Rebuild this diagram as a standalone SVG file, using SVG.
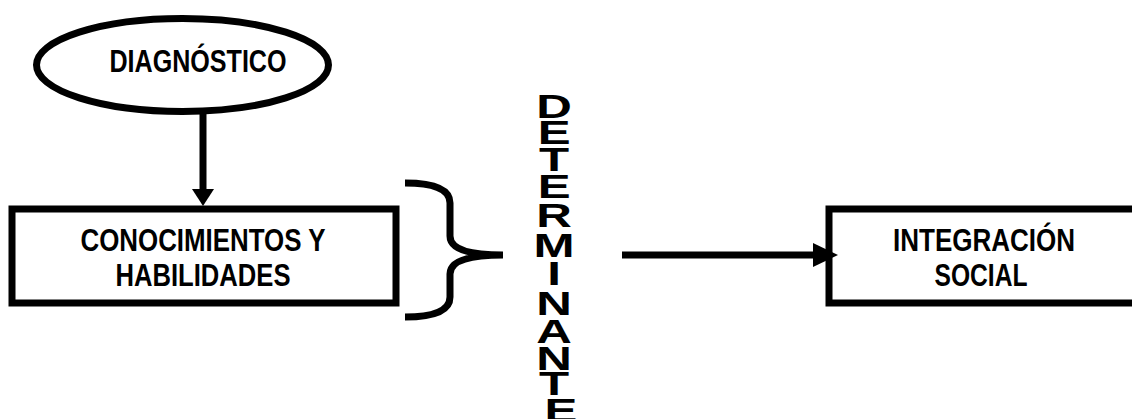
<svg xmlns="http://www.w3.org/2000/svg" width="1132" height="419" viewBox="0 0 1132 419">
<style>
.shape{fill:#fff;stroke:#000;stroke-width:7}
.lbl{font-family:"Liberation Sans",Arial,sans-serif;font-weight:bold;font-size:31px;fill:#000;text-anchor:middle}
.vert{font-family:"Liberation Sans",Arial,sans-serif;font-weight:bold;font-size:34px;fill:#000;text-anchor:middle}
.conn{stroke:#000;stroke-width:7;fill:none}
</style>
<rect width="1132" height="419" fill="#fff"/>
<g id="diagnostico">
<ellipse class="shape" cx="182.5" cy="65" rx="146" ry="46.5"/>
<text class="lbl" x="198" y="72" textLength="177" lengthAdjust="spacingAndGlyphs">DIAGNÓSTICO</text>
</g>
<g id="conocimientos">
<rect class="shape" x="12" y="209" width="384" height="94" stroke-width="8"/>
<text class="lbl" x="203" y="251" textLength="245" lengthAdjust="spacingAndGlyphs">CONOCIMIENTOS Y</text>
<text class="lbl" x="203" y="286" textLength="175" lengthAdjust="spacingAndGlyphs">HABILIDADES</text>
</g>
<g id="integracion">
<rect class="shape" x="829" y="209" width="320" height="94" stroke-width="8"/>
<text class="lbl" x="984" y="251" textLength="182" lengthAdjust="spacingAndGlyphs">INTEGRACIÓN</text>
<text class="lbl" x="981" y="286" textLength="93" lengthAdjust="spacingAndGlyphs">SOCIAL</text>
</g>
<g id="determinante" transform="translate(561,0) scale(1.45,1)">
<text class="vert">
<tspan x="0" y="118">D</tspan>
<tspan x="0" y="144">E</tspan>
<tspan x="0" y="171">T</tspan>
<tspan x="0" y="198">E</tspan>
<tspan x="0" y="227">R</tspan>
<tspan x="0" y="257">M</tspan>
<tspan x="0" y="285">I</tspan>
<tspan x="0" y="315">N</tspan>
<tspan x="0" y="343">A</tspan>
<tspan x="0" y="370">N</tspan>
<tspan x="0" y="395">T</tspan>
<tspan x="0" y="422">E</tspan>
</text>
</g>
<g id="connectors">
<line class="conn" x1="203" y1="113" x2="203" y2="192" stroke-width="6"/>
<polygon points="192,189 214,189 203,206" fill="#000"/>
<path class="conn" d="M405,183 Q450,183 450,203 L450,236 Q450,255 503,255 Q450,255 450,274 L450,297 Q450,317 405,317"/>
<line class="conn" x1="622" y1="255" x2="815" y2="255"/>
<polygon points="813,243 813,267 838,255" fill="#000"/>
</g>
</svg>
